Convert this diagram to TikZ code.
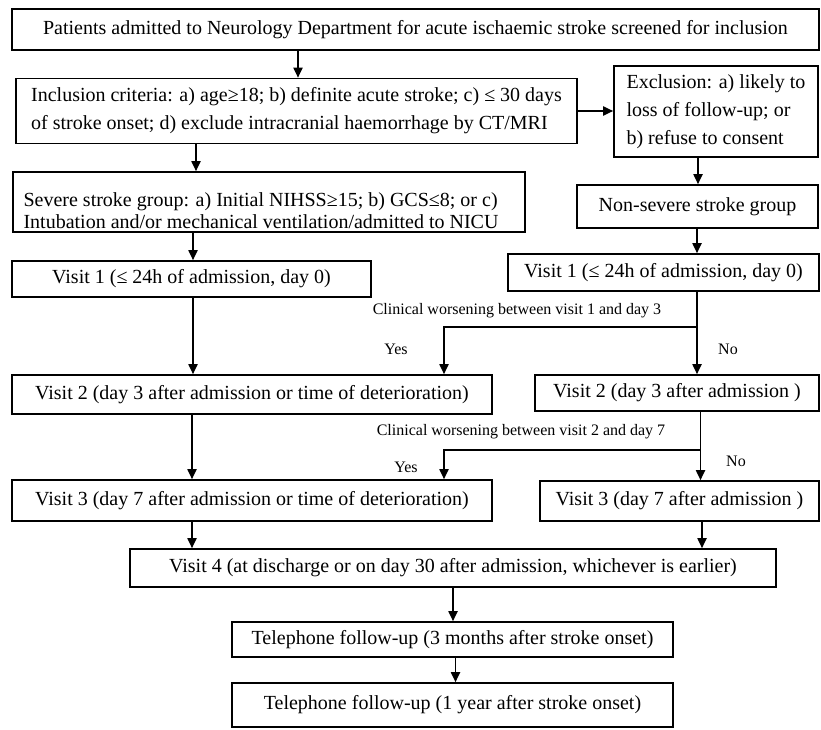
\documentclass[tikz,border=0pt]{standalone}
\usepackage{fontspec}
\setmainfont{Liberation Serif}
\usetikzlibrary{arrows.meta}
\begin{document}
\begin{tikzpicture}[x=1pt,y=-1pt,
  box/.style={draw, line width=1.6pt, inner sep=0pt, align=center, font=\fontsize{20}{24}\selectfont},
  txt/.style={inner sep=0pt, align=left, font=\fontsize{20}{22}\selectfont},
  lbl/.style={inner sep=0pt, font=\fontsize{16}{18}\selectfont},
  arr/.style={line width=1.8pt, -{Triangle[length=10pt,width=9pt]}},
  ln/.style={line width=1.8pt}]
\useasboundingbox (0,0) rectangle (821,730);
% boxes
\node[box, minimum width=807pt, minimum height=41pt] (top) at (415.5,29.5)
  {Patients admitted to Neurology Department for acute ischaemic stroke screened for inclusion};
\node[box, minimum width=561pt, minimum height=65pt, align=left, font=\fontsize{20}{28}\selectfont] (incl) at (296.5,111)
  {Inclusion criteria: a) age≥18; b) definite acute stroke; c) ≤ 30 days\\of stroke onset; d) exclude intracranial haemorrhage by CT/MRI};
\node[box, minimum width=204pt, minimum height=91pt, align=left, font=\fontsize{20}{28}\selectfont] (excl) at (716,111.5)
  {Exclusion: a) likely to\\loss of follow-up; or\\b) refuse to consent};
\node[box, minimum width=512pt, minimum height=60pt] (sev) at (269,202) {};
\node[txt] (sevtext) at (261,210.5)
  {Severe stroke group: a) Initial NIHSS≥15; b) GCS≤8; or c)\\Intubation and/or mechanical ventilation/admitted to NICU};
\node[box, minimum width=241pt, minimum height=43pt] (nons) at (697.5,206.5) {Non-severe stroke group};
\node[box, minimum width=359pt, minimum height=36pt] (v1L) at (191.5,279) {Visit 1 (≤ 24h of admission, day 0)};
\node[box, minimum width=311pt, minimum height=37pt] (v1R) at (663.5,272.5) {Visit 1 (≤ 24h of admission, day 0)};
\node[box, minimum width=480pt, minimum height=39pt] (v2L) at (252,394.5) {Visit 2 (day 3 after admission or time of deterioration)};
\node[box, minimum width=284pt, minimum height=36pt] (v2R) at (677,393) {Visit 2 (day 3 after admission )};
\node[box, minimum width=480pt, minimum height=41pt] (v3L) at (252,500.5) {Visit 3 (day 7 after admission or time of deterioration)};
\node[box, minimum width=279pt, minimum height=40pt] (v3R) at (679.5,501) {Visit 3 (day 7 after admission )};
\node[box, minimum width=646pt, minimum height=38pt] (v4) at (453,568) {Visit 4 (at discharge or on day 30 after admission, whichever is earlier)};
\node[box, minimum width=441pt, minimum height=35pt] (tel1) at (452.5,639.5) {Telephone follow-up (3 months after stroke onset)};
\node[box, minimum width=441pt, minimum height=44pt] (tel2) at (452.5,705) {Telephone follow-up (1 year after stroke onset)};
% labels
\node[lbl] (c1) at (517,311) {Clinical worsening between visit 1 and day 3};
\node[lbl] (c2) at (521,431.5) {Clinical worsening between visit 2 and day 7};
\node[lbl] (y1) at (396,349) {Yes};
\node[lbl] (n1) at (728,349) {No};
\node[lbl] (y2) at (406,467) {Yes};
\node[lbl] (n2) at (736,461) {No};
% connectors
\draw[arr] (298,0 |- top.south) -- (298,0 |- incl.north);
\draw[arr] (incl.east |- 0,111) -- (excl.west |- 0,111);
\draw[arr] (196,0 |- incl.south) -- (196,0 |- sev.north);
\draw[arr] (193,0 |- sev.south) -- (193,0 |- v1L.north);
\draw[arr] (193,0 |- v1L.south) -- (193,0 |- v2L.north);
\draw[arr] (192,0 |- v2L.south) -- (192,0 |- v3L.north);
\draw[arr] (192,0 |- v3L.south) -- (192,0 |- v4.north);
\draw[arr] (698,0 |- excl.south) -- (698,0 |- nons.north);
\draw[arr] (697,0 |- nons.south) -- (697,0 |- v1R.north);
\draw[arr] (697,0 |- v1R.south) -- (697,0 |- v2R.north);
\coordinate (b1) at (697,327);
\draw[arr] (b1) -| (444,0 |- v2L.north);
\draw[arr] (700.5,0 |- v2R.south) -- (700.5,0 |- v3R.north);
\coordinate (b2) at (700.5,450);
\draw[arr] (b2) -| (444,0 |- v3L.north);
\draw[arr] (702,0 |- v3R.south) -- (702,0 |- v4.north);
\draw[arr] (453,0 |- v4.south) -- (453,0 |- tel1.north);
\draw[arr] (455.5,0 |- tel1.south) -- (455.5,0 |- tel2.north);
\end{tikzpicture}
\end{document}
